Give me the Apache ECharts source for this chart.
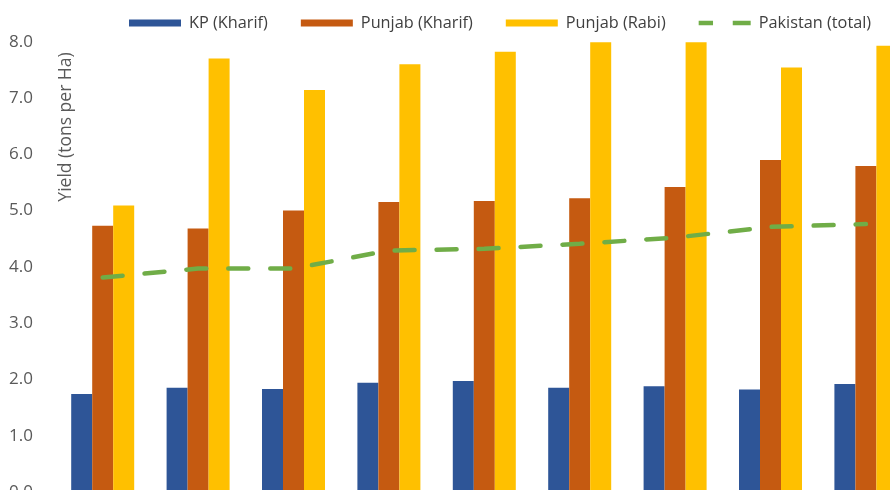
<!DOCTYPE html>
<html>
<head>
<meta charset="utf-8">
<script src="https://cdn.jsdelivr.net/npm/echarts@6/dist/echarts.min.js"></script>
<style>
  html, body { margin: 0; padding: 0; background: #ffffff; }
  #chart { width: 890px; height: 490px; }
</style>
</head>
<body>
<div id="chart"></div>
<script>
// Yield by season and region, nine consecutive years
var years = ['Y1', 'Y2', 'Y3', 'Y4', 'Y5', 'Y6', 'Y7', 'Y8', 'Y9'];
var kpKharif = [1.74, 1.85, 1.83, 1.94, 1.97, 1.85, 1.88, 1.82, 1.92];
var punjabKharif = [4.73, 4.68, 5.00, 5.15, 5.17, 5.22, 5.42, 5.90, 5.79];
var punjabRabi = [5.09, 7.70, 7.14, 7.60, 7.82, 7.99, 7.99, 7.54, 7.93];
var pakistanTotal = [3.81, 3.97, 3.97, 4.29, 4.32, 4.41, 4.52, 4.71, 4.76];
var yTicks = { min: 0, max: 8, interval: 1 };

var font = 'Open Sans';
var chart = echarts.init(document.getElementById('chart'));

chart.setOption({
  animation: false,
  backgroundColor: '#ffffff',
  textStyle: { fontFamily: font },
  legend: {
    left: 124,
    top: 10,
    itemWidth: 52,
    itemHeight: 7,
    itemGap: 33,
    textStyle: { fontFamily: font, fontSize: 16.3, color: '#404040', padding: [0, 0, 0, 3] },
    data: [
      { name: 'KP (Kharif)', icon: 'rect' },
      { name: 'Punjab (Kharif)', icon: 'rect' },
      { name: 'Punjab (Rabi)', icon: 'rect' },
      // two short dashes for the dashed total line
      { name: 'Pakistan (total)', icon: 'path://M0,0H16V5H0Z M38,0H58V5H38Z' }
    ]
  },
  grid: {
    left: 55,
    top: 41.7,
    width: 858.6,
    height: 450.3,
    containLabel: false,
    outerBoundsMode: 'none'
  },
  xAxis: {
    type: 'category',
    data: years,
    axisLine: { show: false },
    axisTick: { show: false },
    axisLabel: { show: false },
    splitLine: { show: false }
  },
  yAxis: {
    type: 'value',
    min: yTicks.min,
    max: yTicks.max,
    interval: yTicks.interval,
    axisLine: { show: false },
    axisTick: { show: false },
    splitLine: { show: false },
    axisLabel: {
      margin: 22,
      fontFamily: font,
      fontSize: 17,
      color: '#595959',
      formatter: function (v) { return v.toFixed(1); }
    }
  },
  graphic: [{
    type: 'text',
    x: 66,
    y: 127,
    rotation: Math.PI / 2,
    style: {
      text: 'Yield (tons per Ha)',
      fontFamily: font,
      fontSize: 17.5,
      fill: '#595959',
      align: 'center',
      verticalAlign: 'middle'
    }
  }],
  series: [
    {
      name: 'KP (Kharif)', type: 'bar', data: kpKharif,
      barWidth: 21, barGap: '0%',
      itemStyle: { color: '#2E5597' }
    },
    {
      name: 'Punjab (Kharif)', type: 'bar', data: punjabKharif,
      barWidth: 21, barGap: '0%',
      itemStyle: { color: '#C55A11' }
    },
    {
      name: 'Punjab (Rabi)', type: 'bar', data: punjabRabi,
      barWidth: 21, barGap: '0%',
      itemStyle: { color: '#FFC000' }
    },
    {
      name: 'Pakistan (total)', type: 'line', data: pakistanTotal,
      symbol: 'none',
      lineStyle: { color: '#70AD47', width: 4.5, type: [20, 22], cap: 'round' },
      itemStyle: { color: '#70AD47' },
      z: 5
    }
  ]
});
</script>
</body>
</html>
